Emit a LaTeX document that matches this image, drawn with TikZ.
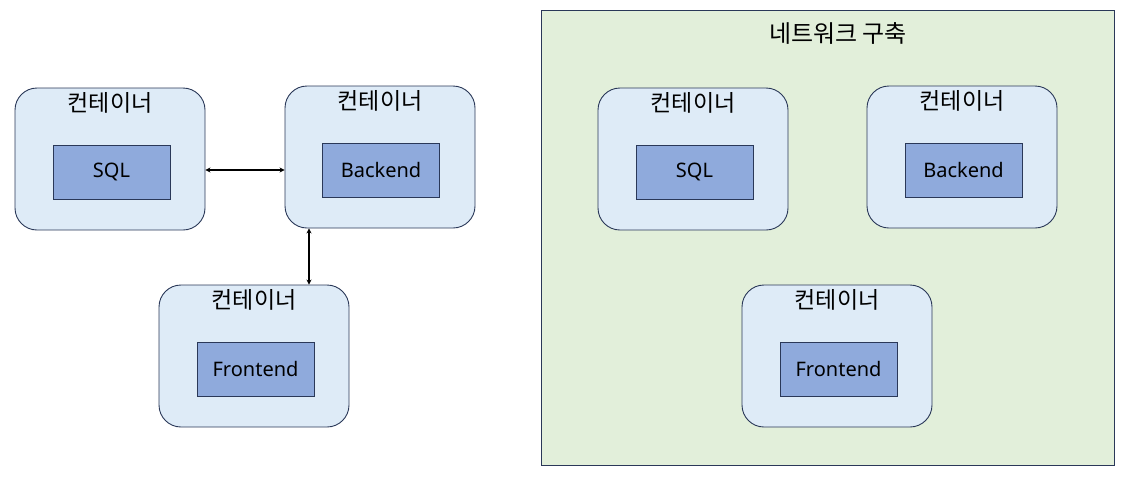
\documentclass[tikz,border=0pt]{standalone}
\usepackage{fontspec}
\setmainfont{Noto Sans}
\newfontfamily\kr{Noto Sans CJK KR}
\usetikzlibrary{arrows.meta,positioning}
\definecolor{boxline}{HTML}{2A3858}
\definecolor{cfill}{HTML}{DEEBF7}
\definecolor{ifill}{HTML}{8FAADC}
\definecolor{nfill}{HTML}{E2EFDA}
\tikzset{
	cont/.style={draw=boxline, line width=0.9pt, fill=cfill, rounded corners=22pt, minimum width=190pt, minimum height=142pt},
	app/.style={draw=boxline, line width=0.9pt, fill=ifill, minimum width=117pt, minimum height=54pt, font=\fontsize{20}{24}\selectfont},
	ctitle/.style={font=\kr\fontsize{23}{26}\selectfont, inner sep=0pt}
}
\begin{document}
\begin{tikzpicture}[x=1pt,y=-1pt]
			\useasboundingbox (0,0) rectangle (1126,480);
			% network
			\node[draw=boxline, line width=0.9pt, fill=nfill, minimum width=573pt, minimum height=455pt] (net) at (827.5,237.5) {};
			\node[ctitle, font=\kr\fontsize{24}{28}\selectfont] (nett) at (838,33) {네트워크 구축};
			% containers
			\node[cont] (c1) at (110,159) {};
			\node[cont] (c2) at (380,157) {};
			\node[cont] (c3) at (254,356) {};
			\node[cont] (d1) at (693,159) {};
			\node[cont] (d2) at (962,157) {};
			\node[cont] (d3) at (837,356) {};
			\foreach \c in {c1,c2,c3,d1,d2,d3}
				\node[ctitle, below=5pt of \c.north] (\c t) {컨테이너};
			% apps
			\node[app] (sqlA) at (111.5,172) {SQL};
			\node[app] (backA) at (381,170) {Backend};
			\node[app] (frontA) at (255.5,369) {Frontend};
			\node[app] (sqlB) at (694.5,172) {SQL};
			\node[app] (backB) at (963.5,170) {Backend};
			\node[app] (frontB) at (838.5,369) {Frontend};
			\path[{Stealth[length=5pt,width=5pt]}-{Stealth[length=5pt,width=5pt]}, line width=1.2pt]
			(c1.east |- backA) edge (c2.west |- backA)
			([xshift=-71pt]c2.south) edge ([xshift=-71pt]c2.south |- c3.north);
		\end{tikzpicture}
\end{document}
